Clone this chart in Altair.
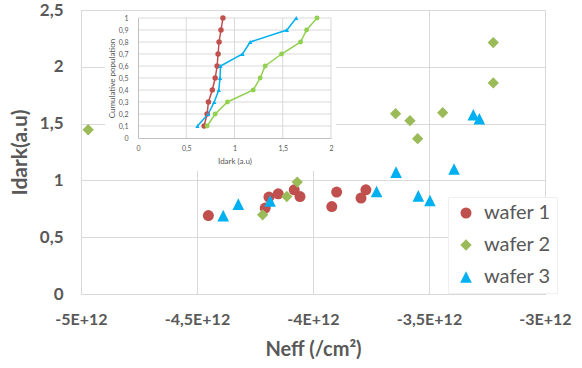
import altair as alt
import pandas as pd

# ---------------- data ----------------
wafers = ["wafer 1", "wafer 2", "wafer 3"]
main_colors = ["#C0504D", "#9BBB59", "#00B0F0"]
inset_colors = ["#C0504D", "#92D050", "#00B0F0"]

w1_neff = [-4.451e12, -4.206e12, -4.190e12, -4.150e12, -4.081e12,
           -4.056e12, -3.919e12, -3.898e12, -3.793e12, -3.772e12]
w1_idark = [0.69, 0.756, 0.853, 0.882, 0.917, 0.858, 0.770, 0.897, 0.844, 0.917]

w2_neff = [-4.969e12, -4.217e12, -4.113e12, -4.068e12, -3.644e12,
           -3.582e12, -3.549e12, -3.441e12, -3.223e12, -3.223e12]
w2_idark = [1.446, 0.697, 0.858, 0.985, 1.587, 1.526, 1.367, 1.596, 2.213, 1.858]

w3_neff = [-4.387e12, -4.322e12, -4.185e12, -3.726e12, -3.642e12,
           -3.546e12, -3.496e12, -3.392e12, -3.309e12, -3.283e12]
w3_idark = [0.69, 0.791, 0.82, 0.902, 1.073, 0.864, 0.823, 1.10, 1.578, 1.543]

# inset: cumulative population vs Idark
cum_pop = [0.1, 0.2, 0.3, 0.4, 0.5, 0.6, 0.7, 0.8, 0.9, 1.0]
w1_cum_idark = [0.685, 0.716, 0.73, 0.77, 0.80, 0.82, 0.83, 0.84, 0.86, 0.88]
w2_cum_idark = [0.716, 0.80, 0.927, 1.194, 1.266, 1.318, 1.488, 1.685, 1.747, 1.855]
w3_cum_idark = [0.616, 0.727, 0.79, 0.837, 0.85, 0.855, 1.083, 1.163, 1.543, 1.64]

main_x_ticks = [-5e12, -4.5e12, -4e12, -3.5e12, -3e12]
main_y_ticks = [0, 0.5, 1, 1.5, 2, 2.5]
inset_x_ticks = [0, 0.5, 1, 1.5, 2]
inset_y_ticks = [0, 0.1, 0.2, 0.3, 0.4, 0.5, 0.6, 0.7, 0.8, 0.9, 1]

# ---------------- tables ----------------
rows = []
for w, xs, ys in zip(wafers, [w1_neff, w2_neff, w3_neff], [w1_idark, w2_idark, w3_idark]):
    for a, b in zip(xs, ys):
        rows.append({"wafer": w, "neff": a, "idark": b})
df_main = pd.DataFrame(rows)

rows = []
for w, xs in zip(wafers, [w1_cum_idark, w2_cum_idark, w3_cum_idark]):
    for a, c in zip(xs, cum_pop):
        rows.append({"serie": w, "idk": a, "cum": c})
df_inset = pd.DataFrame(rows)

FONT = "Lato"
GREY = "#595959"
GRID = "#D9D9D9"
W, H = 464, 284

# ---------------- main scatter ----------------
legend = alt.Legend(
    title=None, orient="none", legendX=367, legendY=187,
    fillColor="white", strokeColor="#EFEFEF", padding=6,
    labelFont=FONT, labelFontSize=20, labelColor=GREY,
    symbolSize=100, rowPadding=12, labelOffset=8, symbolOffset=2,
)
tri = "M0,-1L1,1L-1,1Z"

main = alt.Chart(df_main).mark_point(filled=True, opacity=1).encode(
    x=alt.X("neff:Q",
            scale=alt.Scale(domain=[-5e12, -3e12], nice=False, zero=False),
            axis=alt.Axis(values=main_x_ticks, title="Neff (/cm²)",
                          labelExpr="'-' + replace(format(abs(datum.value) / 1e12, '~g'), '.', ',') + 'E+12'",
                          labelFont=FONT, labelFontWeight="bold", labelFontSize=16,
                          labelColor=GREY, labelPadding=17, labelFlush=False, labelOverlap=False,
                          ticks=False, domainColor=GRID, grid=True, gridColor=GRID,
                          titleFont=FONT, titleFontWeight="bold", titleFontSize=20,
                          titleColor=GREY, titlePadding=12)),
    y=alt.Y("idark:Q",
            scale=alt.Scale(domain=[0, 2.5], nice=False),
            axis=alt.Axis(values=main_y_ticks, title="Idark(a.u)",
                          labelExpr="replace(format(datum.value, '~g'), '.', ',')",
                          labelFont=FONT, labelFontWeight="bold", labelFontSize=17,
                          labelColor=GREY, labelPadding=18, labelFlush=False, labelOverlap=False,
                          ticks=False, domainColor=GRID, grid=True, gridColor=GRID,
                          titleFont=FONT, titleFontWeight="bold", titleFontSize=21,
                          titleColor=GREY, titlePadding=9)),
    color=alt.Color("wafer:N", scale=alt.Scale(domain=wafers, range=main_colors), legend=legend),
    shape=alt.Shape("wafer:N", scale=alt.Scale(domain=wafers, range=["circle", "diamond", tri]), legend=legend),
    size=alt.Size("wafer:N", scale=alt.Scale(domain=wafers, range=[121, 135, 100]), legend=None),
)

# ---------------- inset (same explicit scales in every inset layer) ----------------
def xs_in():
    return alt.Scale(domain=[0, 2], range=[57, 250], nice=False, zero=False)

def ys_in():
    return alt.Scale(domain=[0, 1], range=[128, 8], nice=False, zero=False)

bg = alt.Chart(alt.Data(values=[{"k": 1}])).mark_rect(color="white").encode(
    x=alt.value(24), x2=alt.value(255), y=alt.value(1), y2=alt.value(161)
)

grid_h = alt.Chart(pd.DataFrame({"t": inset_y_ticks[1:]})).mark_rule(color=GRID, strokeWidth=1).encode(
    y=alt.Y("t:Q", scale=ys_in(), axis=None),
    x=alt.datum(0, scale=xs_in(), axis=None), x2=alt.datum(2),
)
grid_v = alt.Chart(pd.DataFrame({"t": inset_x_ticks[1:]})).mark_rule(color=GRID, strokeWidth=1).encode(
    x=alt.X("t:Q", scale=xs_in(), axis=None),
    y=alt.datum(0, scale=ys_in(), axis=None), y2=alt.datum(1),
)

in_axes_x = alt.Axis(values=inset_x_ticks, orient="bottom", offset=128 - H, title="Idark (a.u)",
                     labelExpr="replace(format(datum.value, '~g'), '.', ',')",
                     labelFont=FONT, labelFontSize=7, labelColor=GREY, labelPadding=6,
                     labelFlush=False, labelOverlap=False, ticks=False, grid=False,
                     domainColor="#BFBFBF", titleFont=FONT, titleFontSize=8,
                     titleFontWeight="normal", titleColor=GREY, titlePadding=6, zindex=1)
in_axes_y = alt.Axis(values=inset_y_ticks, orient="left", offset=-57, title="Cumulative population",
                     labelExpr="replace(format(datum.value, '~g'), '.', ',')",
                     labelFont=FONT, labelFontSize=7, labelColor=GREY, labelPadding=10,
                     labelFlush=False, labelOverlap=False, ticks=False, grid=False,
                     domainColor="#BFBFBF", titleFont=FONT, titleFontSize=8,
                     titleFontWeight="normal", titleColor=GREY, titlePadding=2, zindex=1)

in_lines = alt.Chart(df_inset).mark_line(strokeWidth=1.5).encode(
    x=alt.X("idk:Q", scale=xs_in(), axis=in_axes_x),
    y=alt.Y("cum:Q", scale=ys_in(), axis=in_axes_y),
    color=alt.Color("serie:N", scale=alt.Scale(domain=wafers, range=inset_colors), legend=None),
    order=alt.Order("cum:Q"),
)
in_pts = alt.Chart(df_inset).mark_point(filled=True, opacity=1).encode(
    x=alt.X("idk:Q", scale=xs_in(), axis=None),
    y=alt.Y("cum:Q", scale=ys_in(), axis=None),
    color=alt.Color("serie:N", scale=alt.Scale(domain=wafers, range=inset_colors), legend=None),
    shape=alt.Shape("serie:N", scale=alt.Scale(domain=wafers, range=["circle", "circle", tri]), legend=None),
    size=alt.Size("serie:N", scale=alt.Scale(domain=wafers, range=[30, 18, 36]), legend=None),
)

chart = alt.layer(main, bg, grid_h, grid_v, in_lines, in_pts).resolve_scale(
    x="independent", y="independent", color="independent", shape="independent", size="independent"
).properties(
    width=W, height=H,
    padding={"left": 81, "top": 10, "right": 37, "bottom": 74},
    autosize=alt.AutoSizeParams(type="none"),
).configure_view(stroke=None).configure(background="white")

chart.save("out.html", embed_options={"renderer": "svg", "actions": False})
